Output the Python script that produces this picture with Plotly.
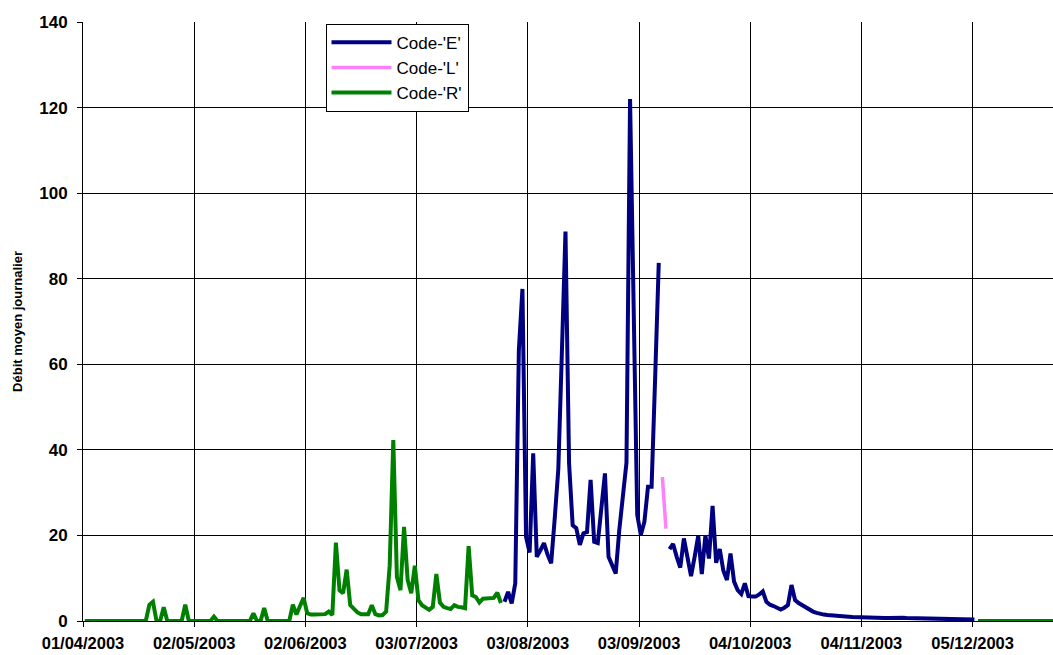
import plotly.graph_objects as go
import pandas as pd

# ---------------- data ----------------
start_date = "2003-04-01 12:00"   # daily means, plotted at mid-day
axis_start = "2003-04-01"
end_date = "2003-12-31 12:00"

# Code-'R' : 01/04/2003 -> 26/07/2003 (daily)
code_r_part1 = [
    0, 0, 0, 0, 0, 0, 0, 0, 0, 0,
    0, 0, 0, 0, 0, 0, 0, 0, 3.8, 4.5,
    0, 0, 3.2, 0, 0, 0, 0, 0, 3.8, 0,
    0, 0, 0, 0, 0, 0, 1.0, 0, 0, 0,
    0, 0, 0, 0, 0, 0, 0, 1.8, 0, 0,
    3.0, 0, 0, 0, 0, 0, 0, 0, 3.8, 1.5,
    3.5, 5.4, 1.8, 1.5, 1.5, 1.5, 1.5, 1.6, 2.2, 1.4,
    18.3, 7.2, 6.5, 12.0, 3.7, 2.7, 2.0, 1.6, 1.6, 1.6,
    3.7, 1.6, 1.3, 1.4, 2.2, 13.0, 42.3, 10.3, 7.2, 22.0,
    9.6, 6.5, 12.9, 4.9, 3.7, 3.0, 2.6, 3.3, 11.0, 4.3,
    3.3, 3.0, 2.8, 3.7, 3.3, 3.2, 3.0, 17.5, 6.0, 5.6,
    4.3, 5.2, 5.2, 5.2, 5.4, 6.6, 4.2,
]

# Code-'E' : 27/07/2003 -> 08/09/2003
code_e_part1 = [
    4.5, 6.8, 4.1, 8.8, 63.3, 77.6, 19.7, 16.0, 39.2, 15.0,
    16.5, 18.2, 15.5, 13.5, 24.0, 35.5, 63.0, 91.0, 36.8, 22.4,
    21.7, 17.8, 20.5, 20.8, 33.0, 18.5, 18.2, 26.0, 34.5, 15.0,
    13.0, 11.1, 21.3, 30.2, 37.0, 122.0, 73.0, 24.8, 20.1, 23.2,
    31.4, 31.4, 57.0, 83.7,
]

# Code-'L' : 09/09/2003 -> 10/09/2003
code_l = [33.6, 21.6]

# Code-'E' : 11/09/2003 -> 05/12/2003
code_e_part2 = [
    16.8, 18.0, 15.0, 12.5, 19.3, 15.0, 10.5, 15.0, 19.9, 11.0,
    20.0, 14.6, 26.9, 13.6, 16.8, 11.8, 9.6, 15.8, 9.2, 7.2,
    6.3, 8.8, 5.8, 5.7, 5.7, 6.2, 6.9, 4.5, 3.8, 3.5,
    3.0, 2.7, 3.1, 3.7, 8.4, 4.9, 4.2, 3.7, 3.0, 2.6,
    2.2, 1.9, 1.6, 1.5, 1.4, 1.3, 1.2, 1.15, 1.1, 1.05,
    1.0, 0.95, 0.9, 0.88, 0.85, 0.82, 0.8, 0.78, 0.76, 0.74,
    0.72, 0.72, 0.75, 0.85, 0.9, 0.75, 0.68, 0.65, 0.62, 0.6,
    0.58, 0.56, 0.54, 0.52, 0.5, 0.48, 0.46, 0.45, 0.44, 0.42,
    0.4, 0.38, 0.36, 0.35, 0.34, 0.33,
]

# Code-'R' : 06/12/2003 -> 31/12/2003
code_r_part2 = [
    0, 0, 0, 0, 0, 0, 0, 0, 0, 0,
    0, 0, 0, 0, 0, 0, 0, 0, 0, 0,
    0, 0, 0, 0, 0, 0,
]

tick_format = "%d/%m/%Y"
y_title = "Débit moyen journalier"
series_names = ["Code-'E'", "Code-'L'", "Code-'R'"]

# ---------------- build full daily series ----------------
dates = pd.date_range(start_date, end_date, freq="D")
n = len(dates)
n_r1, n_e1, n_l, n_e2 = len(code_r_part1), len(code_e_part1), len(code_l), len(code_e_part2)

r_full = code_r_part1 + [None] * (n - n_r1 - len(code_r_part2)) + code_r_part2
e_full = ([None] * n_r1 + code_e_part1 + [None] * n_l + code_e_part2
          + [None] * (n - n_r1 - n_e1 - n_l - n_e2))
l_full = [None] * (n_r1 + n_e1) + code_l + [None] * (n - n_r1 - n_e1 - n_l)

fig = go.Figure()
fig.add_trace(go.Scatter(x=dates, y=e_full, mode="lines", name=series_names[0],
                         line=dict(color="#000080", width=4)))
fig.add_trace(go.Scatter(x=dates, y=l_full, mode="lines", name=series_names[1],
                         line=dict(color="#FF80FF", width=3.5)))
fig.add_trace(go.Scatter(x=dates, y=r_full, mode="lines", name=series_names[2],
                         line=dict(color="#008000", width=4)))

x_end = pd.Timestamp(axis_start) + pd.Timedelta(days=270.4)

fig.update_layout(
    width=1053, height=655,
    margin=dict(l=83, r=0, t=22, b=34),
    paper_bgcolor="white", plot_bgcolor="white",
    font=dict(family="Liberation Sans, Arial, sans-serif", color="black"),
    showlegend=True,
    legend=dict(
        x=0.25, y=0.997, xanchor="left", yanchor="top",
        bgcolor="white", bordercolor="black", borderwidth=1,
        font=dict(size=17, family="Liberation Sans, Arial, sans-serif"),
        itemwidth=60, tracegroupgap=0,
    ),
)
fig.update_xaxes(
    type="date", range=[pd.Timestamp(axis_start), x_end],
    tick0=axis_start, dtick=31 * 86400000, tickformat=tick_format,
    showgrid=True, gridcolor="black", gridwidth=1,
    showline=True, linecolor="black", linewidth=1,
    ticks="outside", ticklen=5, tickcolor="black",
    tickfont=dict(size=16.5, weight="bold"),
    ticklabelstandoff=2,
    zeroline=False, automargin=False,
)
fig.update_yaxes(
    range=[0, 140], dtick=20,
    showgrid=True, gridcolor="black", gridwidth=1,
    showline=True, linecolor="black", linewidth=1,
    ticks="outside", ticklen=5, tickcolor="black",
    tickfont=dict(size=17, weight="bold"),
    ticklabelstandoff=6,
    zeroline=False, automargin=False,
    title=dict(text=y_title, font=dict(size=13, weight="bold"), standoff=13),
)

fig.write_html(
    "out.html",
    config={"displayModeBar": False},
    post_script="document.body.style.margin='0';document.body.style.overflow='hidden';",
)
